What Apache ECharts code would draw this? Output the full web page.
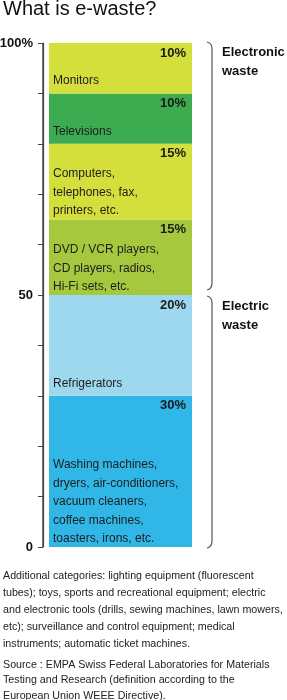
<!DOCTYPE html>
<html>
<head>
<meta charset="utf-8">
<style>
  html, body { margin: 0; padding: 0; background: #ffffff; }
  #chart { width: 287px; height: 700px; }
</style>
<script src="https://cdn.jsdelivr.net/npm/echarts@6/dist/echarts.min.js"></script>
</head>
<body>
<div id="chart"></div>
<script>
// ---- data (bottom to top) ----
const categories = [
  'Washing machines,\ndryers, air-conditioners,\nvacuum cleaners,\ncoffee machines,\ntoasters, irons, etc.',
  'Refrigerators',
  'DVD / VCR players,\nCD players, radios,\nHi-Fi sets, etc.',
  'Computers,\ntelephones, fax,\nprinters, etc.',
  'Televisions',
  'Monitors'
];
const shares = [30, 20, 15, 15, 10, 10];
const tickValues = [0, 50, 100];
const tickTexts = ['0', '50', '100%'];
const groupNames = ['Electronic\nwaste', 'Electric\nwaste'];
const groupFrom = [50, 0];
const groupTo = [100, 50];
const titleText = 'What is e-waste?';
const noteLines = [
  'Additional categories: lighting equipment (fluorescent',
  'tubes); toys, sports and recreational equipment; electric',
  'and electronic tools (drills, sewing machines, lawn mowers,',
  'etc); surveillance and control equipment; medical',
  'instruments; automatic ticket machines.'
];
const sourceLines = [
  'Source : EMPA Swiss Federal Laboratories for Materials',
  'Testing and Research (definition according to the',
  'European Union WEEE Directive).'
];

// ---- styles ----
const colors = ['#30b7e7', '#9ed8ef', '#a6c83e', '#d5df3b', '#3dab50', '#d5df3b'];
const FONT = '"Liberation Sans", Arial, Helvetica, sans-serif';

const chart = echarts.init(document.getElementById('chart'), null, { renderer: 'canvas' });

const series = [];
shares.forEach((v, i) => {
  const nLines = categories[i].split('\n').length;
  series.push({
    type: 'bar',
    name: categories[i],
    stack: 'seg',
    data: [v],
    barWidth: '100%',
    barGap: '-100%',
    itemStyle: { color: colors[i] },
    label: {
      show: true,
      position: 'insideBottomLeft',
      distance: 4,
      offset: [0, nLines > 1 ? 5 : 1],
      formatter: categories[i],
      fontFamily: FONT,
      fontSize: 12,
      lineHeight: 18.5,
      color: '#1d1d1d'
    },
    silent: true
  });
});
shares.forEach((v, i) => {
  series.push({
    type: 'bar',
    stack: 'pct',
    data: [v],
    barWidth: '100%',
    barGap: '-100%',
    itemStyle: { color: 'rgba(0,0,0,0)' },
    label: {
      show: true,
      position: 'insideTopRight',
      distance: 3,
      padding: [0, 3, 0, 0],
      formatter: v + '%',
      fontFamily: FONT,
      fontSize: 13,
      lineHeight: 14,
      fontWeight: 'bold',
      color: '#1a1a1a'
    },
    silent: true,
    z: 3
  });
});

chart.setOption({
  animation: false,
  backgroundColor: '#ffffff',
  grid: { left: 49, width: 143, top: 43, bottom: 153, containLabel: false, outerBoundsMode: 'none' },
  xAxis: { type: 'category', data: [''], show: false },
  yAxis: {
    type: 'value',
    min: 0,
    max: 100,
    interval: 10,
    position: 'left',
    offset: 6,
    axisLine: { show: true, onZero: false, lineStyle: { color: '#444', width: 1.2 } },
    axisTick: { show: true, length: 5, lineStyle: { color: '#444', width: 1 } },
    splitLine: { show: false },
    axisLabel: {
      margin: 10,
      fontFamily: FONT,
      fontSize: 13,
      fontWeight: 'bold',
      color: '#111',
      formatter: (val) => {
        const k = tickValues.indexOf(val);
        return k >= 0 ? tickTexts[k] : '';
      }
    }
  },
  series: series
});

// ---- axis line, braces and group labels, positioned from the y scale ----
const graphics = [];
graphics.push({
  type: 'text', left: 3, top: -1,
  style: { text: titleText, fontFamily: FONT, fontSize: 20, fill: '#111' }
});
const yPix0 = chart.convertToPixel({ yAxisIndex: 0 }, 0);
const yPix100 = chart.convertToPixel({ yAxisIndex: 0 }, 100);
graphics.push({
  type: 'line',
  shape: { x1: 43, y1: yPix100, x2: 43, y2: yPix0 },
  style: { stroke: '#444', lineWidth: 1.4 },
  z: 10
});
const xTip = 207, xLine = 212;
const braceStyle = { fill: null, stroke: '#555', lineWidth: 1.2 };
groupNames.forEach((name, i) => {
  const yTop = chart.convertToPixel({ yAxisIndex: 0 }, groupTo[i]) + (i === 0 ? -1 : 1);
  const yBot = chart.convertToPixel({ yAxisIndex: 0 }, groupFrom[i]) + (i === 0 ? -5 : 1);
  graphics.push({
    type: 'bezierCurve',
    shape: { x1: xTip, y1: yTop, x2: xLine, y2: yTop + 7, cpx1: xLine, cpy1: yTop + 1 },
    style: braceStyle
  });
  graphics.push({
    type: 'line',
    shape: { x1: xLine, y1: yTop + 7, x2: xLine, y2: yBot - 7 },
    style: braceStyle
  });
  graphics.push({
    type: 'bezierCurve',
    shape: { x1: xLine, y1: yBot - 7, x2: xTip, y2: yBot, cpx1: xLine, cpy1: yBot - 1 },
    style: braceStyle
  });
  graphics.push({
    type: 'text',
    x: 222,
    y: yTop + 1,
    style: {
      text: name, fontFamily: FONT, fontSize: 13, fontWeight: 'bold',
      lineHeight: 19, fill: '#111'
    }
  });
});
graphics.push({
  type: 'text', x: 3, y: 567,
  style: { text: noteLines.join('\n'), fontFamily: FONT, fontSize: 10.7, lineHeight: 17.2, fill: '#222' }
});
graphics.push({
  type: 'text', x: 3, y: 657,
  style: { text: sourceLines.join('\n'), fontFamily: FONT, fontSize: 10.7, lineHeight: 15.5, fill: '#222' }
});
chart.setOption({ graphic: graphics });
</script>
</body>
</html>
